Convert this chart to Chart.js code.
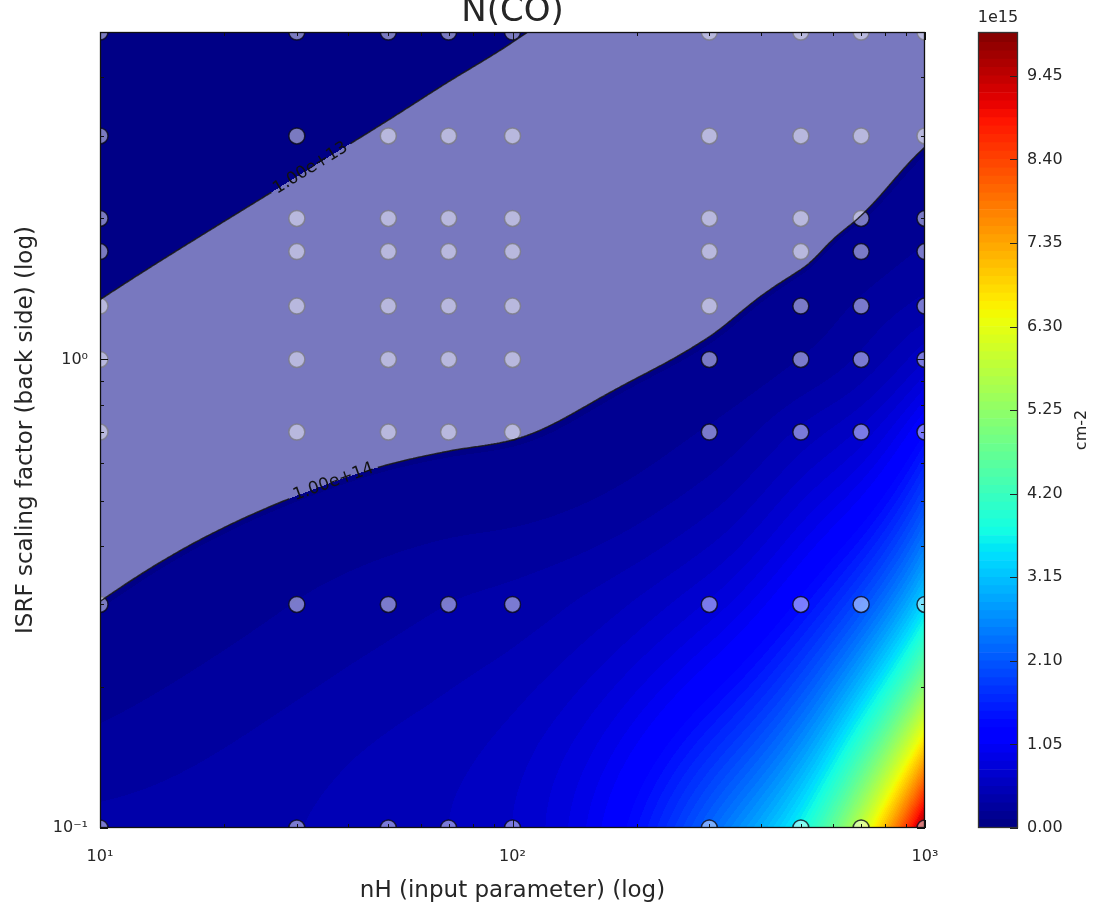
<!DOCTYPE html>
<html><head><meta charset="utf-8">
<script src="https://cdn.jsdelivr.net/npm/chart.js@4.4.1/dist/chart.umd.min.js"></script>
<style>
html,body{margin:0;padding:0;background:#fff;}
#wrap{position:relative;width:1097px;height:904px;overflow:hidden;background:#fff;}
#main{position:absolute;left:0;top:0;}
#cbar{position:absolute;left:960px;top:0;}
</style></head><body>
<div id="wrap"><canvas id="main" width="1097" height="904"></canvas><canvas id="cbar" width="137" height="904"></canvas></div>
<script>
// ---------------- data ----------------
const nH   = [10, 30, 50, 70, 100, 300, 500, 700, 1000];          // x grid (input nH)
const isrf = [0.1, 0.3, 0.7, 1.0, 1.3, 1.7, 2.0, 3.0, 5.0];         // y grid (ISRF back side)
// N(CO) [cm-2] at each nH, one array per ISRF value
const nco_isrf_0p1 = [3.55e14, 4.17e14, 4.79e14, 5.25e14, 6.31e14, 2.24e15, 3.72e15, 5.89e15, 1.00e16];
const nco_isrf_0p3 = [1.02e14, 2.14e14, 2.75e14, 3.16e14, 3.55e14, 7.59e14, 1.32e15, 2.00e15, 3.39e15];
const nco_isrf_0p7 = [2.74e13, 6.01e13, 7.82e13, 8.71e13, 9.48e13, 2.24e14, 4.47e14, 6.61e14, 1.26e15];
const nco_isrf_1p0 = [1.58e13, 3.61e13, 4.84e13, 5.56e13, 6.24e13, 1.17e14, 2.14e14, 3.39e14, 6.31e14];
const nco_isrf_1p3 = [1.05e13, 2.48e13, 3.40e13, 3.99e13, 4.58e13, 8.32e13, 1.38e14, 2.29e14, 3.55e14];
const nco_isrf_1p7 = [6.95e12, 1.69e13, 2.38e13, 2.85e13, 3.35e13, 6.31e13, 8.71e13, 1.41e14, 2.24e14];
const nco_isrf_2p0 = [5.41e12, 1.34e13, 1.91e13, 2.32e13, 2.76e13, 5.37e13, 7.24e13, 1.02e14, 1.62e14];
const nco_isrf_3p0 = [2.89e12, 7.52e12, 1.11e13, 1.40e13, 1.72e13, 3.47e13, 5.13e13, 6.76e13, 9.33e13];
const nco_isrf_5p0 = [1.31e12, 3.62e12, 5.62e12, 7.33e12, 9.42e12, 2.04e13, 3.09e13, 3.98e13, 5.01e13];
const ncoRows = [nco_isrf_0p1, nco_isrf_0p3, nco_isrf_0p7, nco_isrf_1p0, nco_isrf_1p3,
                 nco_isrf_1p7, nco_isrf_2p0, nco_isrf_3p0, nco_isrf_5p0];

const contourLevels = [1e13, 1e14];
const contourLabels = ['1.00e+13', '1.00e+14'];
const contourLabelX = [310, 333];

const xTickValues = [10, 100, 1000];
const xTickLabels = ['10\u00B9', '10\u00B2', '10\u00B3'];
const xMinorTicks = [20,30,40,50,60,70,80,90,200,300,400,500,600,700,800,900];
const yTickValues = [0.1, 1];
const yTickLabels = ['10\u207B\u00B9', '10\u2070'];
const yMinorTicks = [0.2,0.3,0.4,0.5,0.6,0.7,0.8,0.9,2,3,4,5];

const fillStep = 1.05e14;
const fillMax = 1.0e16;
const cbarTickValues = [0, 1.05e15, 2.10e15, 3.15e15, 4.20e15, 5.25e15, 6.30e15, 7.35e15, 8.40e15, 9.45e15];
const cbarTickLabels = ['0.00','1.05','2.10','3.15','4.20','5.25','6.30','7.35','8.40','9.45'];

// ---------------- helpers ----------------
const FONT = 'DejaVu Sans';
const TXT = '#262626';
Chart.defaults.font.family = FONT;
Chart.defaults.color = TXT;

const JET = {
  r: [[0,0],[0.35,0],[0.66,1],[0.89,1],[1,0.5]],
  g: [[0,0],[0.125,0],[0.375,1],[0.64,1],[0.91,0],[1,0]],
  b: [[0,0.5],[0.11,1],[0.34,1],[0.65,0],[1,0]]
};
function seg(p, t){ for (let i=1;i<p.length;i++){ if (t<=p[i][0]){ const [x0,y0]=p[i-1],[x1,y1]=p[i]; return y0+(y1-y0)*(t-x0)/(x1-x0);} } return p[p.length-1][1]; }
function jet(t){ t=Math.max(0,Math.min(1,t)); return [seg(JET.r,t),seg(JET.g,t),seg(JET.b,t)].map(v=>Math.round(v*255)); }
const nBands = Math.ceil(fillMax/fillStep - 1e-9);
const bandRGB = [];
for (let k=0;k<nBands;k++) bandRGB.push(jet(((k+0.5)*fillStep)/fillMax));

// monotone cubic (PCHIP) interpolation
function pchipD(xs, ys){
  const n=xs.length, h=[], d=[], m=new Array(n).fill(0);
  for (let k=0;k<n-1;k++){ h[k]=xs[k+1]-xs[k]; d[k]=(ys[k+1]-ys[k])/h[k]; }
  for (let k=1;k<n-1;k++){
    if (d[k-1]*d[k]<=0) m[k]=0;
    else { const w1=2*h[k]+h[k-1], w2=h[k]+2*h[k-1]; m[k]=(w1+w2)/(w1/d[k-1]+w2/d[k]); }
  }
  const end=(h0,h1,d0,d1)=>{
    let v=((2*h0+h1)*d0-h0*d1)/(h0+h1);
    if (Math.sign(v)!==Math.sign(d0)) v=0;
    else if (Math.sign(d0)!==Math.sign(d1) && Math.abs(v)>Math.abs(3*d0)) v=3*d0;
    return v;
  };
  m[0]=end(h[0],h[1],d[0],d[1]);
  m[n-1]=end(h[n-2],h[n-3],d[n-2],d[n-3]);
  return m;
}
function pchipAt(xs, ys, m, x){
  const n=xs.length;
  if (x<xs[0]) x=xs[0]; if (x>xs[n-1]) x=xs[n-1];
  let lo=0, hi=n-1;
  while (hi-lo>1){ const k=(hi+lo)>>1; if (xs[k]>x) hi=k; else lo=k; }
  const h=xs[hi]-xs[lo], t=(x-xs[lo])/h, t2=t*t, t3=t2*t;
  return (2*t3-3*t2+1)*ys[lo]+(t3-2*t2+t)*h*m[lo]+(-2*t3+3*t2)*ys[hi]+(t3-t2)*h*m[hi];
}

function buildField(chart){
  const a=chart.chartArea, xs=chart.scales.x, ys=chart.scales.y;
  const W=Math.round(a.right-a.left), H=Math.round(a.bottom-a.top);
  const U=nH.map(Math.log10), V=isrf.map(Math.log10);
  const Lrows=ncoRows.map(r=>r.map(Math.log10));
  const rowD=Lrows.map(r=>pchipD(U,r));
  const vPix=new Float64Array(H);
  for (let py=0;py<H;py++) vPix[py]=Math.log10(ys.getValueForPixel(a.top+py+0.5));
  const L=new Float32Array(W*H);
  for (let px=0;px<W;px++){
    const u=Math.log10(xs.getValueForPixel(a.left+px+0.5));
    const col=Lrows.map((r,j)=>pchipAt(U,r,rowD[j],u));
    const dc=pchipD(V,col);
    for (let py=0;py<H;py++) L[py*W+px]=pchipAt(V,col,dc,vPix[py]);
  }
  const lo=Math.log10(contourLevels[0]), hi=Math.log10(contourLevels[1]);
  const heat=document.createElement('canvas'); heat.width=W; heat.height=H;
  const hctx=heat.getContext('2d'); const img=hctx.createImageData(W,H);
  const ov=document.createElement('canvas'); ov.width=W; ov.height=H;
  const octx=ov.getContext('2d'); const oimg=octx.createImageData(W,H);
  for (let i=0;i<W*H;i++){
    const N=Math.pow(10,L[i]);
    let k=Math.floor(N/fillStep); if (k<0) k=0; if (k>nBands-1) k=nBands-1;
    const c=bandRGB[k];
    img.data[4*i]=c[0]; img.data[4*i+1]=c[1]; img.data[4*i+2]=c[2]; img.data[4*i+3]=255;
    if (L[i]>=lo && L[i]<=hi){ oimg.data[4*i]=255; oimg.data[4*i+1]=255; oimg.data[4*i+2]=255; oimg.data[4*i+3]=120; }
  }
  hctx.putImageData(img,0,0); octx.putImageData(oimg,0,0);
  return {W,H,L,heat,ov};
}

function contourSegments(F, W, H, level, s){
  const segs=[];
  const gx=[]; for (let x=0;x<W-1;x+=s) gx.push(x); gx.push(W-1);
  const gy=[]; for (let y=0;y<H-1;y+=s) gy.push(y); gy.push(H-1);
  const val=(x,y)=>F[y*W+x]-level;
  for (let j=0;j<gy.length-1;j++){
    for (let i=0;i<gx.length-1;i++){
      const x0=gx[i],x1=gx[i+1],y0=gy[j],y1=gy[j+1];
      const a=val(x0,y0),b=val(x1,y0),c=val(x1,y1),d=val(x0,y1);
      const p=[];
      if ((a<0)!==(b<0)) p.push([x0+(x1-x0)*a/(a-b), y0]);
      if ((b<0)!==(c<0)) p.push([x1, y0+(y1-y0)*b/(b-c)]);
      if ((d<0)!==(c<0)) p.push([x0+(x1-x0)*d/(d-c), y1]);
      if ((a<0)!==(d<0)) p.push([x0, y0+(y1-y0)*a/(a-d)]);
      if (p.length===2) segs.push([p[0],p[1]]);
      else if (p.length===4){ segs.push([p[0],p[3]]); segs.push([p[1],p[2]]); }
    }
  }
  return segs;
}
function crossingY(F,W,H,level,px){
  px=Math.max(0,Math.min(W-1,Math.round(px)));
  for (let py=0;py<H-1;py++){
    const a=F[py*W+px]-level, b=F[(py+1)*W+px]-level;
    if ((a<0)!==(b<0)) return py+a/(a-b);
  }
  return null;
}

const fieldPlugin = {
  id:'field',
  beforeDatasetsDraw(chart){
    const a=chart.chartArea;
    if (!chart.$field) chart.$field=buildField(chart);
    const ctx=chart.ctx;
    ctx.save(); ctx.drawImage(chart.$field.heat, a.left, a.top); ctx.restore();
  },
  afterDatasetsDraw(chart){
    const ctx=chart.ctx, a=chart.chartArea, f=chart.$field;
    ctx.save();
    ctx.beginPath(); ctx.rect(a.left,a.top,a.right-a.left,a.bottom-a.top); ctx.clip();
    ctx.drawImage(f.ov, a.left, a.top);
    ctx.font='17px '+FONT;
    contourLevels.forEach((lev,li)=>{
      const L=Math.log10(lev);
      const px=contourLabelX[li]-a.left;
      const cy=crossingY(f.L,f.W,f.H,L,px);
      const y1=crossingY(f.L,f.W,f.H,L,px-20), y2=crossingY(f.L,f.W,f.H,L,px+20);
      const ang=Math.atan2((y2-y1),40);
      const tw=ctx.measureText(contourLabels[li]).width;
      const gap=tw/2+5;
      const cx=px+0.5, cyy=cy+0.5;
      const segs=contourSegments(f.L,f.W,f.H,L,3);
      ctx.strokeStyle='rgba(25,25,25,0.9)'; ctx.lineWidth=1.5;
      ctx.beginPath();
      segs.forEach(s=>{
        const mx=(s[0][0]+s[1][0])/2, my=(s[0][1]+s[1][1])/2;
        if (Math.hypot(mx-cx,my-cyy)<gap) return;
        ctx.moveTo(a.left+s[0][0]+0.5, a.top+s[0][1]+0.5);
        ctx.lineTo(a.left+s[1][0]+0.5, a.top+s[1][1]+0.5);
      });
      ctx.stroke();
      ctx.save();
      ctx.translate(a.left+cx, a.top+cyy); ctx.rotate(ang);
      ctx.fillStyle='#111'; ctx.textAlign='center'; ctx.textBaseline='middle';
      ctx.fillText(contourLabels[li],0,0);
      ctx.restore();
    });
    ctx.restore();
    const xs=chart.scales.x, ys=chart.scales.y;
    ctx.save(); ctx.strokeStyle='#111'; ctx.lineWidth=1; ctx.beginPath();
    const tx=(v,len)=>{ const p=Math.round(xs.getPixelForValue(v))+0.5; ctx.moveTo(p,a.bottom); ctx.lineTo(p,a.bottom-len); ctx.moveTo(p,a.top); ctx.lineTo(p,a.top+len); };
    const ty=(v,len)=>{ const p=Math.round(ys.getPixelForValue(v))+0.5; ctx.moveTo(a.left,p); ctx.lineTo(a.left+len,p); ctx.moveTo(a.right,p); ctx.lineTo(a.right-len,p); };
    xTickValues.forEach(v=>tx(v,8)); xMinorTicks.forEach(v=>tx(v,4));
    yTickValues.forEach(v=>ty(v,8)); yMinorTicks.forEach(v=>ty(v,4));
    ctx.stroke();
    ctx.lineWidth=1.3; ctx.strokeStyle='#111';
    ctx.strokeRect(a.left+0.5,a.top+0.5,a.right-a.left-1,a.bottom-a.top-1);
    ctx.restore();
  },
  afterDraw(chart){
    const ctx=chart.ctx, a=chart.chartArea;
    ctx.save(); ctx.font='34px '+FONT; ctx.fillStyle=TXT; ctx.textAlign='center'; ctx.textBaseline='alphabetic';
    ctx.fillText('N(CO)', (a.left+a.right)/2, 21);
    ctx.restore();
  }
};

const points = [];
isrf.forEach(g=>nH.forEach(n=>points.push({x:n, y:g})));

new Chart(document.getElementById('main'), {
  type:'scatter',
  data:{datasets:[{data:points, pointRadius:8, pointHoverRadius:8,
    backgroundColor:'rgba(255,255,255,0.48)', borderColor:'rgba(10,10,25,0.8)', borderWidth:1.5, clip:0}]},
  options:{
    responsive:false, animation:false, devicePixelRatio:1, events:[],
    layout:{padding:{left:0, top:32, right:172, bottom:0}},
    plugins:{legend:{display:false}, tooltip:{enabled:false}, title:{display:false}},
    scales:{
      x:{type:'logarithmic', min:10, max:1000,
        grid:{display:false, drawTicks:false}, border:{display:false},
        afterBuildTicks:s=>{ s.ticks=xTickValues.map(v=>({value:v})); },
        afterFit:s=>{ s.height=76; },
        ticks:{padding:19, font:{size:16}, color:TXT, maxRotation:0, autoSkip:false, callback:(v,i)=>xTickLabels[i]},
        title:{display:true, text:'nH (input parameter) (log)', font:{size:23}, color:TXT, padding:{top:0,bottom:-1}}
      },
      y:{type:'logarithmic', min:0.1, max:5,
        grid:{display:false, drawTicks:false}, border:{display:false},
        afterBuildTicks:s=>{ s.ticks=yTickValues.map(v=>({value:v})); },
        afterFit:s=>{ s.width=100; },
        ticks:{padding:12, font:{size:16}, color:TXT, autoSkip:false, callback:(v,i)=>yTickLabels[i]},
        title:{display:true, text:'ISRF scaling factor (back side) (log)', font:{size:23}, color:TXT, padding:{top:12,bottom:0}}
      }
    }
  },
  plugins:[fieldPlugin]
});

// ---------------- colour bar ----------------
const cbarPlugin = {
  id:'cbarframe',
  afterDatasetsDraw(chart){
    const ctx=chart.ctx, a=chart.chartArea, ys=chart.scales.y;
    ctx.save();
    ctx.strokeStyle='#222'; ctx.lineWidth=1; ctx.beginPath();
    cbarTickValues.forEach(v=>{ const p=Math.round(ys.getPixelForValue(v))+0.5; ctx.moveTo(a.right,p); ctx.lineTo(a.right-8,p); });
    ctx.stroke();
    ctx.lineWidth=1.3; ctx.strokeStyle='#333';
    ctx.strokeRect(a.left+0.5,a.top+0.5,a.right-a.left-1,a.bottom-a.top-1);
    ctx.fillStyle=TXT; ctx.font='16px '+FONT; ctx.textAlign='center'; ctx.textBaseline='middle';
    ctx.fillText('1e15',(a.left+a.right)/2,18);
    ctx.translate(122,(a.top+a.bottom)/2); ctx.rotate(-Math.PI/2);
    ctx.fillText('cm-2',0,0);
    ctx.restore();
  }
};
const cbDatasets = bandRGB.map((c,k)=>({
  data:[Math.min(fillStep, fillMax-k*fillStep)],
  backgroundColor:'rgb('+c.join(',')+')', borderWidth:0,
  barPercentage:1, categoryPercentage:1, stack:'cb'
}));
new Chart(document.getElementById('cbar'), {
  type:'bar',
  data:{labels:[''], datasets:cbDatasets},
  options:{
    responsive:false, animation:false, devicePixelRatio:1, events:[],
    layout:{padding:{left:18, top:32, bottom:76, right:0}},
    plugins:{legend:{display:false}, tooltip:{enabled:false}, title:{display:false}},
    scales:{
      x:{stacked:true, display:false},
      y:{stacked:true, position:'right', min:0, max:fillMax,
        grid:{display:false, drawTicks:false}, border:{display:false},
        afterBuildTicks:s=>{ s.ticks=cbarTickValues.map(v=>({value:v})); },
        afterFit:s=>{ s.width=79; },
        ticks:{padding:9, font:{size:16}, color:TXT, autoSkip:false, callback:(v,i)=>cbarTickLabels[i]}
      }
    }
  },
  plugins:[cbarPlugin]
});
</script></body></html>
